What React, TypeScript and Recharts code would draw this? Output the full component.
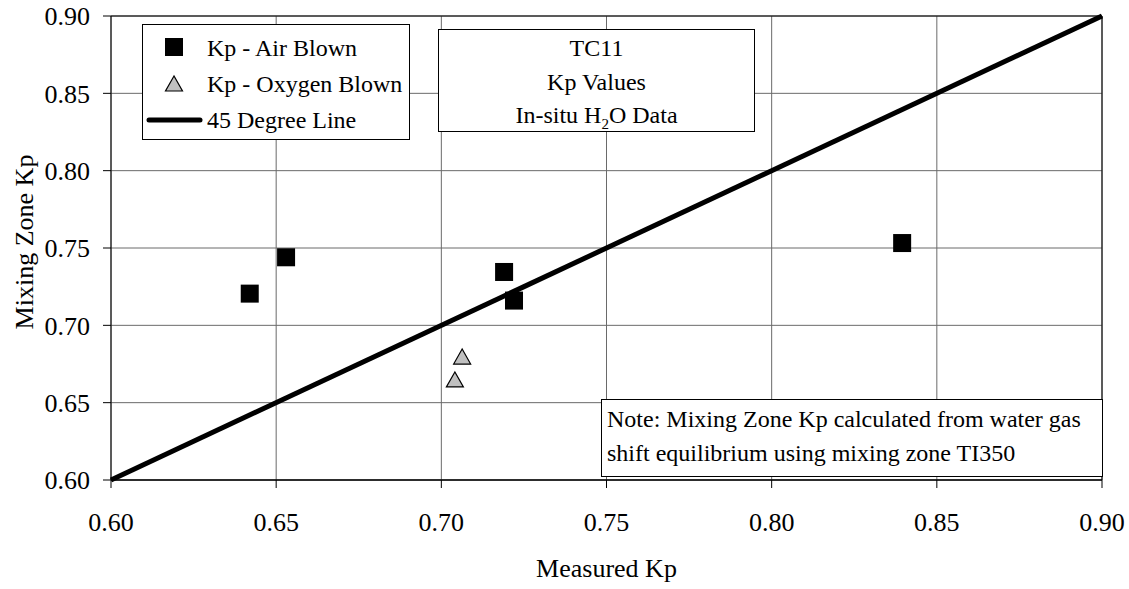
import { CartesianGrid, ReferenceLine, Scatter, ScatterChart, XAxis, YAxis } from "recharts";

const FONT = '"Liberation Serif", "Times New Roman", serif';

const xTicks = [0.6, 0.65, 0.7, 0.75, 0.8, 0.85, 0.9];
const yTicks = [0.6, 0.65, 0.7, 0.75, 0.8, 0.85, 0.9];

// Kp - Air Blown
const airMeasured = [0.642, 0.653, 0.719, 0.722, 0.8395];
const airMixing = [0.7205, 0.744, 0.7345, 0.716, 0.7532];

// Kp - Oxygen Blown
const oxyMeasured = [0.7063, 0.7041];
const oxyMixing = [0.6795, 0.6647];

// 45 degree line end points
const diagonal = [0.6, 0.9];

const airData = airMeasured.map((x, i) => ({ x, y: airMixing[i] }));
const oxyData = oxyMeasured.map((x, i) => ({ x, y: oxyMixing[i] }));
const diagData = diagonal.map((v) => ({ x: v, y: v }));

const fmt = (v: number) => v.toFixed(2);

function SquareMark(props: any) {
  const { cx, cy } = props;
  return <rect x={cx - 9} y={cy - 9} width={18} height={18} fill="#000" />;
}

function TriangleMark(props: any) {
  const { cx, cy } = props;
  return (
    <polygon
      points={`${cx},${cy - 8} ${cx - 8.5},${cy + 7} ${cx + 8.5},${cy + 7}`}
      fill="#c0c0c0"
      stroke="#000"
      strokeWidth={1.2}
    />
  );
}

function XTitle(props: any) {
  const vb = props.viewBox || { x: 111, y: 480, width: 991 };
  return (
    <text x={vb.x + vb.width / 2} y={vb.y + 97} textAnchor="middle" fontSize={26} fontFamily={FONT} fill="#000">
      Measured Kp
    </text>
  );
}

function YTitle(props: any) {
  const vb = props.viewBox || { x: 0, y: 16, height: 464 };
  const x = vb.x + 33;
  const y = vb.y + vb.height / 2 - 6;
  return (
    <text
      x={x}
      y={y}
      transform={`rotate(-90, ${x}, ${y})`}
      textAnchor="middle"
      fontSize={26}
      fontFamily={FONT}
      fill="#000"
    >
      Mixing Zone Kp
    </text>
  );
}

const boxStyle = {
  position: "absolute" as const,
  background: "#fff",
  border: "1px solid #000",
  boxSizing: "border-box" as const,
  fontFamily: FONT,
  fontSize: 24,
  color: "#000",
};

function LegendRow({ top, icon, label }: { top: number; icon: any; label: string }) {
  return (
    <div style={{ position: "absolute", top, left: 0, height: 36, width: 300 }}>
      <svg width={62} height={36} style={{ position: "absolute", left: 0, top: 0 }}>
        {icon}
      </svg>
      <div style={{ position: "absolute", left: 64, top: 0, lineHeight: "36px", whiteSpace: "nowrap" }}>{label}</div>
    </div>
  );
}

export default function App() {
  return (
    <div style={{ position: "absolute", left: 0, top: 0, width: 1129, height: 589, background: "#fff" }}>
      <ScatterChart width={1129} height={589} margin={{ top: 16, right: 27, bottom: 0, left: 0 }}>
        <CartesianGrid stroke="#6a6a6a" strokeWidth={1} />
        <XAxis
          type="number"
          dataKey="x"
          domain={[0.6, 0.9]}
          ticks={xTicks}
          tickFormatter={fmt}
          height={109}
          tickSize={8}
          tickMargin={25}
          axisLine={{ stroke: "#000", strokeWidth: 1.5 }}
          tickLine={{ stroke: "#000" }}
          tick={{ fontSize: 26, fill: "#000", fontFamily: FONT }}
          label={<XTitle />}
        />
        <YAxis
          type="number"
          dataKey="y"
          domain={[0.6, 0.9]}
          ticks={yTicks}
          tickFormatter={fmt}
          width={111}
          tickSize={8}
          tickMargin={13}
          axisLine={{ stroke: "#000", strokeWidth: 1 }}
          tickLine={{ stroke: "#000" }}
          tick={{ fontSize: 26, fill: "#000", fontFamily: FONT }}
          label={<YTitle />}
        />
        <ReferenceLine y={0.9} stroke="#000" strokeWidth={1} />
        <ReferenceLine x={0.9} stroke="#000" strokeWidth={1} />
        <Scatter
          name="45 Degree Line"
          data={diagData}
          line={{ stroke: "#000", strokeWidth: 5 }}
          shape={() => <g />}
          isAnimationActive={false}
        />
        <Scatter name="Kp - Air Blown" data={airData} shape={SquareMark} isAnimationActive={false} />
        <Scatter name="Kp - Oxygen Blown" data={oxyData} shape={TriangleMark} isAnimationActive={false} />
      </ScatterChart>

      <div style={{ ...boxStyle, left: 142, top: 24, width: 268, height: 116 }}>
        <LegendRow top={5} label="Kp - Air Blown" icon={<rect x={22} y={8} width={18} height={18} fill="#000" />} />
        <LegendRow
          top={41}
          label="Kp - Oxygen Blown"
          icon={<polygon points="31,10 22.5,25 39.5,25" fill="#c0c0c0" stroke="#000" strokeWidth={1.2} />}
        />
        <LegendRow
          top={77}
          label="45 Degree Line"
          icon={<line x1={6} y1={18} x2={57} y2={18} stroke="#000" strokeWidth={5} strokeLinecap="round" />}
        />
      </div>

      <div
        style={{
          ...boxStyle,
          left: 438,
          top: 29,
          width: 317,
          height: 103,
          textAlign: "center",
          lineHeight: "33.5px",
          paddingTop: 2,
        }}
      >
        <div>TC11</div>
        <div>Kp Values</div>
        <div>
          In-situ H<span style={{ fontSize: 15, verticalAlign: "-6px", lineHeight: 0 }}>2</span>O Data
        </div>
      </div>

      <div
        style={{
          ...boxStyle,
          left: 601,
          top: 399,
          width: 502,
          height: 78,
          lineHeight: "34px",
          paddingTop: 2,
          paddingLeft: 5,
          whiteSpace: "nowrap",
        }}
      >
        <div>Note: Mixing Zone Kp calculated from water gas</div>
        <div>shift equilibrium using mixing zone TI350</div>
      </div>
    </div>
  );
}
